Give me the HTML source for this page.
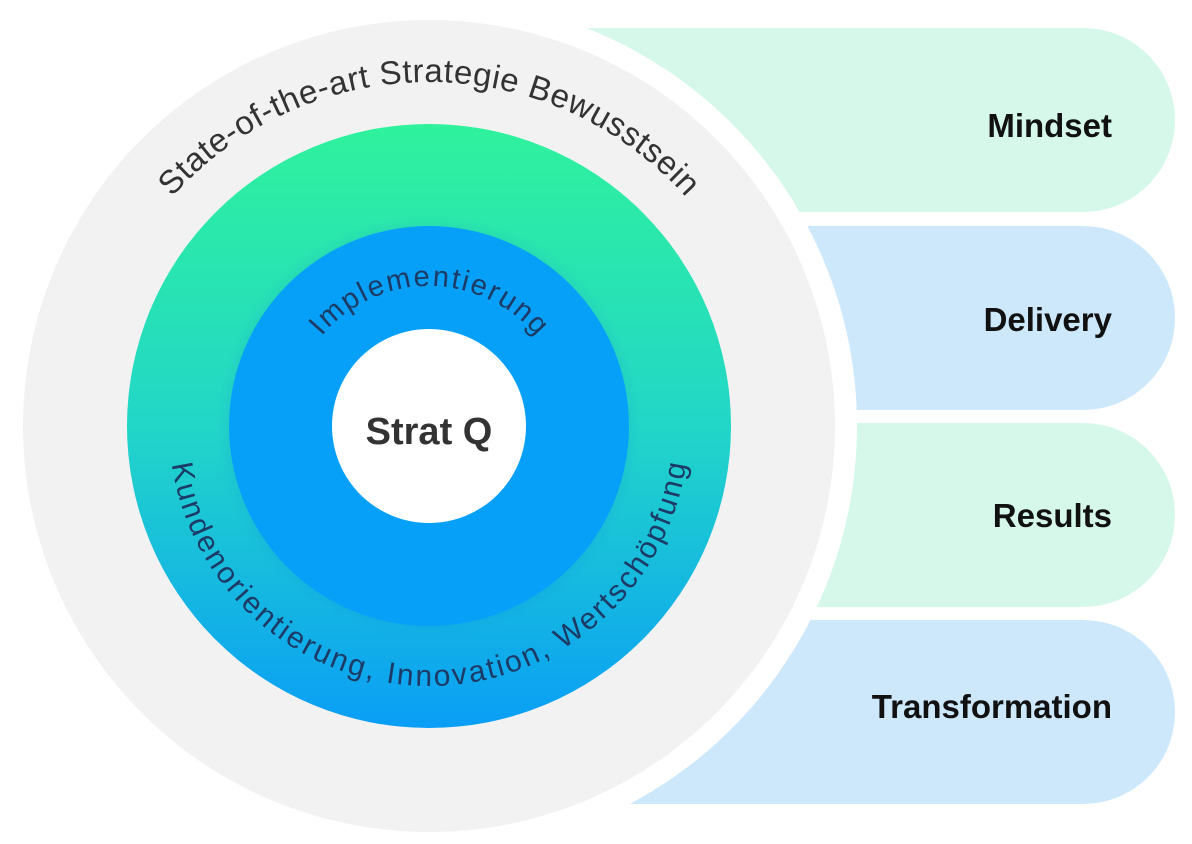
<!DOCTYPE html>
<html><head><meta charset="utf-8"><style>
html,body{margin:0;padding:0;background:#fff;}
svg{display:block;font-family:"Liberation Sans",sans-serif;}
</style></head><body>
<svg width="1192" height="844" viewBox="0 0 1192 844" xmlns="http://www.w3.org/2000/svg">
<defs>
<linearGradient id="g" x1="0" y1="0" x2="0" y2="1">
<stop offset="0" stop-color="#2ff29c"/>
<stop offset="0.5" stop-color="#22d6c8"/>
<stop offset="1" stop-color="#0a9ef6"/>
</linearGradient>
<radialGradient id="sh" cx="0.5" cy="0.5" r="0.5">
<stop offset="0.85" stop-color="#0a7fd0" stop-opacity="0.25"/>
<stop offset="1" stop-color="#0a7fd0" stop-opacity="0"/>
</radialGradient>
<path id="outer" d="M 85 426 A 344 344 0 0 1 773 426"/>
<path id="impl" d="M 289 426 A 140 140 0 0 1 569 426"/>
<path id="bot" d="M 169 426 A 260 260 0 0 0 689 426"/>
</defs>
<path d="M 500 28 H 1083 A 92 92 0 0 1 1083 212 H 500 Z" fill="#d5f8ea"/>
<path d="M 500 226 H 1083 A 92 92 0 0 1 1083 410 H 500 Z" fill="#cde8fb"/>
<path d="M 500 423 H 1083 A 92 92 0 0 1 1083 607 H 500 Z" fill="#d5f8ea"/>
<path d="M 500 620 H 1083 A 92 92 0 0 1 1083 804 H 500 Z" fill="#cde8fb"/>
<circle cx="429" cy="426" r="428" fill="#fff"/>
<circle cx="429" cy="426" r="406" fill="#f2f2f2"/>
<circle cx="429" cy="426" r="302" fill="url(#g)"/>
<circle cx="429" cy="426" r="212" fill="url(#sh)"/>
<circle cx="429" cy="426" r="200" fill="#07a0f8"/>
<circle cx="429" cy="426" r="97" fill="#fff"/>
<text font-size="33" fill="#333"><textPath href="#outer" startOffset="50%" text-anchor="middle" textLength="580" lengthAdjust="spacing">State-of-the-art Strategie Bewusstsein</textPath></text>
<text font-size="29" fill="#1b3b66"><textPath href="#impl" startOffset="50%" text-anchor="middle" textLength="245" lengthAdjust="spacing">Implementierung</textPath></text>
<text font-size="30" fill="#1b3b66"><textPath href="#bot" startOffset="50%" text-anchor="middle" textLength="740" lengthAdjust="spacing">Kundenorientierung,  Innovation, Wertschöpfung</textPath></text>
<text x="429" y="444" font-size="38" font-weight="bold" fill="#333" text-anchor="middle">Strat Q</text>
<g font-size="33" font-weight="bold" fill="#111" text-anchor="end">
<text x="1112" y="137">Mindset</text>
<text x="1112" y="331">Delivery</text>
<text x="1112" y="527">Results</text>
<text x="1112" y="718">Transformation</text>
</g>
</svg>
</body></html>
